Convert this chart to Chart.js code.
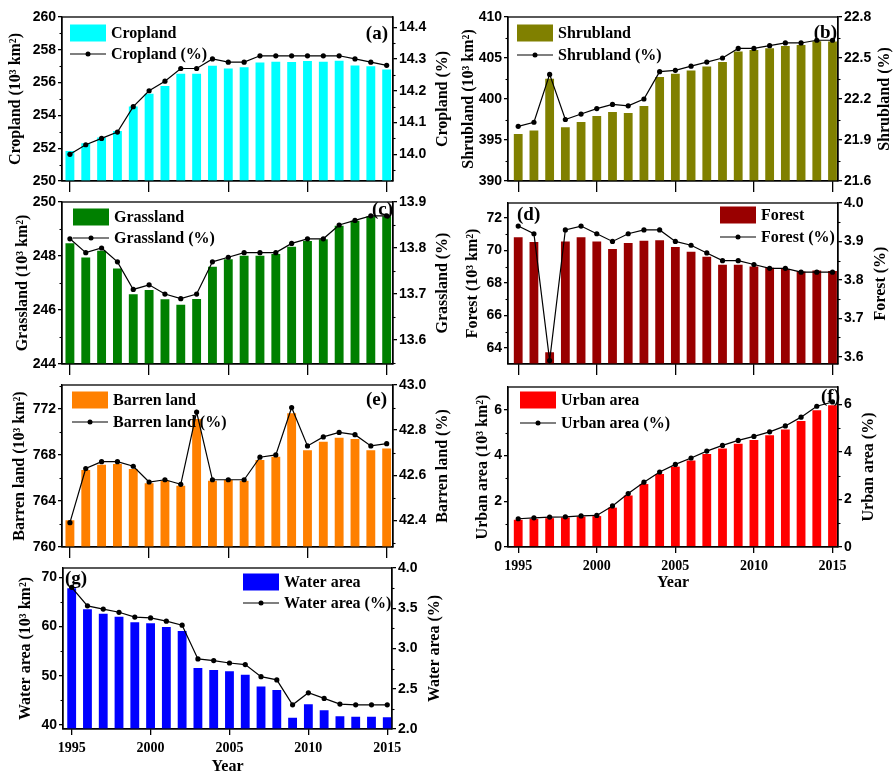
<!DOCTYPE html>
<html>
<head>
<meta charset="utf-8">
<script src="https://cdn.jsdelivr.net/npm/chart.js@4.4.1/dist/chart.umd.min.js"></script>
<style>
  html, body { margin: 0; padding: 0; background: #fff; }
  body { width: 893px; height: 773px; position: relative; overflow: hidden; }
  canvas { position: absolute; }
</style>
</head>
<body>
<script>
// ---- data: land cover area (10^3 km^2) and share (%) per year ----
const years = [1995, 1996, 1997, 1998, 1999, 2000, 2001, 2002, 2003, 2004, 2005,
               2006, 2007, 2008, 2009, 2010, 2011, 2012, 2013, 2014, 2015];
const yearTicks = [1995, 2000, 2005, 2010, 2015];

const croplandArea = [251.83, 252.30, 252.65, 253.05, 254.54, 255.32, 255.80, 256.54, 256.54, 257.03, 256.86,
                      256.94, 257.23, 257.27, 257.25, 257.31, 257.27, 257.33, 257.05, 257.00, 256.80];
const croplandPct  = [14.00, 14.03, 14.05, 14.07, 14.15, 14.20, 14.23, 14.27, 14.27, 14.30, 14.29,
                      14.29, 14.31, 14.31, 14.31, 14.31, 14.31, 14.31, 14.30, 14.29, 14.28];

const shrublandArea = [395.74, 396.15, 402.46, 396.56, 397.20, 397.94, 398.40, 398.30, 399.16, 402.67, 403.07,
                       403.48, 403.97, 404.50, 405.80, 405.97, 406.20, 406.46, 406.60, 407.03, 407.00];
const shrublandPct  = [22.00, 22.03, 22.38, 22.05, 22.09, 22.13, 22.16, 22.15, 22.20, 22.40, 22.41,
                       22.44, 22.47, 22.50, 22.57, 22.57, 22.59, 22.61, 22.61, 22.63, 22.63];

const grasslandArea = [248.47, 247.94, 248.19, 247.54, 246.58, 246.74, 246.40, 246.19, 246.41, 247.60, 247.88,
                       248.01, 248.01, 248.07, 248.34, 248.56, 248.62, 249.12, 249.31, 249.47, 249.47];
const grasslandPct  = [13.82, 13.79, 13.80, 13.77, 13.71, 13.72, 13.70, 13.69, 13.70, 13.77, 13.78,
                       13.79, 13.79, 13.79, 13.81, 13.82, 13.82, 13.85, 13.86, 13.87, 13.87];

const forestArea = [70.81, 70.52, 63.73, 70.56, 70.81, 70.56, 70.09, 70.46, 70.60, 70.63, 70.21,
                    69.93, 69.62, 69.12, 69.12, 69.02, 68.94, 68.86, 68.71, 68.77, 68.73];
const forestPct  = [3.94, 3.92, 3.59, 3.93, 3.94, 3.92, 3.90, 3.92, 3.93, 3.93, 3.90,
                    3.89, 3.87, 3.85, 3.85, 3.84, 3.83, 3.83, 3.82, 3.82, 3.82];

const barrenArea = [762.32, 766.70, 767.16, 767.22, 766.78, 765.54, 765.77, 765.33, 771.13, 765.77, 765.83,
                    765.77, 767.57, 767.86, 771.65, 768.43, 769.16, 769.51, 769.39, 768.43, 768.58];
const barrenPct  = [42.39, 42.63, 42.66, 42.66, 42.64, 42.57, 42.58, 42.56, 42.88, 42.58, 42.58,
                    42.58, 42.68, 42.69, 42.90, 42.73, 42.77, 42.79, 42.78, 42.73, 42.74];

const urbanArea = [1.19, 1.23, 1.26, 1.29, 1.33, 1.35, 1.72, 2.25, 2.75, 3.19, 3.51,
                   3.78, 4.06, 4.30, 4.51, 4.68, 4.88, 5.13, 5.51, 5.97, 6.19];
const urbanPct  = [1.19, 1.23, 1.26, 1.27, 1.31, 1.33, 1.73, 2.25, 2.73, 3.16, 3.48,
                   3.75, 4.04, 4.28, 4.49, 4.66, 4.85, 5.10, 5.47, 5.93, 6.11];

const waterArea = [67.8, 63.5, 62.6, 62.0, 60.9, 60.7, 59.9, 59.1, 51.6, 51.2, 50.9,
                   50.2, 47.8, 47.1, 41.5, 44.2, 43.0, 41.8, 41.7, 41.7, 41.6];
const waterPct  = [3.76, 3.53, 3.49, 3.45, 3.39, 3.38, 3.34, 3.29, 2.87, 2.85, 2.82,
                   2.80, 2.65, 2.61, 2.30, 2.45, 2.38, 2.31, 2.30, 2.30, 2.30];

// tick labels for each value axis
const croplandAreaTicks  = [250, 252, 254, 256, 258, 260];
const croplandPctTicks   = [14.0, 14.1, 14.2, 14.3, 14.4];
const shrublandAreaTicks = [390, 395, 400, 405, 410];
const shrublandPctTicks  = [21.6, 21.9, 22.2, 22.5, 22.8];
const grasslandAreaTicks = [244, 246, 248, 250];
const grasslandPctTicks  = [13.6, 13.7, 13.8, 13.9];
const forestAreaTicks    = [64, 66, 68, 70, 72];
const forestPctTicks     = [3.6, 3.7, 3.8, 3.9, 4.0];
const barrenAreaTicks    = [760, 764, 768, 772];
const barrenPctTicks     = [42.4, 42.6, 42.8, 43.0];
const urbanAreaTicks     = [0, 2, 4, 6];
const urbanPctTicks      = [0, 2, 4, 6];
const waterAreaTicks     = [40, 50, 60, 70];
const waterPctTicks      = [2.0, 2.5, 3.0, 3.5, 4.0];

// ---- panel layout ----
const SERIF = "'Liberation Serif', 'Times New Roman', serif";
const SANS  = "'Liberation Sans', Arial, sans-serif";

const panels = [
  { tag: '(a)', name: 'Cropland', color: '#00FFFF', area: croplandArea, pct: croplandPct,
    areaTicks: croplandAreaTicks, pctTicks: croplandPctTicks, areaRange: [250, 260], pctRange: [13.916, 14.432],
    areaDec: 0, pctDec: 1, box: [0, 0, 452, 195], plot: { l: 62, r: 393, t: 17, b: 181 },
    xRange: [1994.5, 2015.4], showYears: false,
    legend: { x: 70, y1: 33, y2: 54 }, tagPos: { x: 388, y: 34, align: 'right' }, titleX: [16, 443] },
  { tag: '(b)', name: 'Shrubland', color: '#808000', area: shrublandArea, pct: shrublandPct,
    areaTicks: shrublandAreaTicks, pctTicks: shrublandPctTicks, areaRange: [390, 410], pctRange: [21.6, 22.8],
    areaDec: 0, pctDec: 1, box: [448, 0, 445, 195], plot: { l: 508, r: 838, t: 17, b: 181 },
    xRange: [1994.35, 2015.35], showYears: false,
    legend: { x: 517, y1: 33, y2: 55 }, tagPos: { x: 837, y: 33, align: 'right' }, titleX: [469, 885] },
  { tag: '(c)', name: 'Grassland', color: '#008000', area: grasslandArea, pct: grasslandPct,
    areaTicks: grasslandAreaTicks, pctTicks: grasslandPctTicks, areaRange: [244, 250], pctRange: [13.548, 13.9],
    areaDec: 0, pctDec: 1, box: [0, 190, 452, 188], plot: { l: 62, r: 393, t: 202, b: 364 },
    xRange: [1994.5, 2015.4], showYears: false,
    legend: { x: 73, y1: 217, y2: 238 }, tagPos: { x: 393, y: 210, align: 'right' }, titleX: [23, 443] },
  { tag: '(d)', name: 'Forest', color: '#990000', area: forestArea, pct: forestPct,
    areaTicks: forestAreaTicks, pctTicks: forestPctTicks, areaRange: [63, 72.93], pctRange: [3.581, 4.0],
    areaDec: 0, pctDec: 1, box: [448, 190, 445, 188], plot: { l: 508, r: 838, t: 203, b: 364 },
    xRange: [1994.35, 2015.35], showYears: false,
    legend: { x: 720, y1: 215, y2: 237 }, tagPos: { x: 517, y: 215, align: 'left' }, titleX: [473, 881] },
  { tag: '(e)', name: 'Barren land', color: '#FF8000', area: barrenArea, pct: barrenPct,
    areaTicks: barrenAreaTicks, pctTicks: barrenPctTicks, areaRange: [760, 774.1], pctRange: [42.282, 43.0],
    areaDec: 0, pctDec: 1, box: [0, 372, 452, 188], plot: { l: 62, r: 393, t: 385, b: 547 },
    xRange: [1994.5, 2015.4], showYears: false,
    legend: { x: 72, y1: 400, y2: 422 }, tagPos: { x: 387, y: 400, align: 'right' }, titleX: [20, 443] },
  { tag: '(f)', name: 'Urban area', color: '#FF0000', area: urbanArea, pct: urbanPct,
    areaTicks: urbanAreaTicks, pctTicks: urbanPctTicks, areaRange: [0, 6.99], pctRange: [0, 6.74],
    areaDec: 0, pctDec: 0, box: [448, 372, 445, 228], plot: { l: 508, r: 838, t: 387, b: 547 },
    xRange: [1994.35, 2015.35], showYears: true, yearLabelY: 583,
    legend: { x: 520, y1: 400, y2: 423 }, tagPos: { x: 840, y: 397, align: 'right' }, titleX: [483, 869] },
  { tag: '(g)', name: 'Water area', color: '#0000FF', area: waterArea, pct: waterPct,
    areaTicks: waterAreaTicks, pctTicks: waterPctTicks, areaRange: [39.19, 71.9], pctRange: [2.0, 4.0],
    areaDec: 0, pctDec: 1, box: [0, 555, 452, 218], plot: { l: 63, r: 392, t: 568, b: 729 },
    xRange: [1994.45, 2015.3], showYears: true, yearLabelY: 767,
    legend: { x: 243, y1: 582, y2: 603 }, tagPos: { x: 65, y: 579, align: 'left' }, titleX: [26, 435] }
];

// half-way minor tick values between the labelled ticks, kept inside the axis range
function minorValues(ticks, lo, hi) {
  const out = [];
  const step = ticks[1] - ticks[0];
  const cand = [ticks[0] - step / 2];
  for (let i = 0; i < ticks.length; i++) cand.push(ticks[i] + step / 2);
  cand.forEach(v => { if (v > lo + 1e-9 && v < hi - 1e-9) out.push(v); });
  return out;
}

// frame, minor ticks, in-plot legend, axis titles and panel tag
function decor(p) {
  return {
    id: 'decor',
    afterDraw(chart) {
      const ctx = chart.ctx, ca = chart.chartArea;
      const ox = p.box[0], oy = p.box[1];
      ctx.save();
      ctx.strokeStyle = '#000';
      ctx.lineWidth = 1.3;
      ctx.strokeRect(ca.left, ca.top, ca.right - ca.left, ca.bottom - ca.top);

      // minor ticks
      ctx.lineWidth = 1.1;
      [['y', -1, ca.left, p.areaTicks, p.areaRange], ['y1', 1, ca.right, p.pctTicks, p.pctRange]]
        .forEach(([id, dir, x0, ticks, rng]) => {
          const sc = chart.scales[id];
          minorValues(ticks, rng[0], rng[1]).forEach(v => {
            const y = Math.round(sc.getPixelForValue(v)) + 0.5;
            ctx.beginPath();
            ctx.moveTo(x0, y);
            ctx.lineTo(x0 + dir * 2.5, y);
            ctx.stroke();
          });
        });

      // legend
      const lx = p.legend.x - ox;
      const ly1 = p.legend.y1 - oy, ly2 = p.legend.y2 - oy;
      ctx.fillStyle = p.color;
      ctx.fillRect(lx, ly1 - 8.5, 36, 17);
      ctx.strokeStyle = '#000';
      ctx.lineWidth = 1.2;
      ctx.beginPath();
      ctx.moveTo(lx, ly2);
      ctx.lineTo(lx + 36, ly2);
      ctx.stroke();
      ctx.fillStyle = '#000';
      ctx.beginPath();
      ctx.arc(lx + 18, ly2, 2.5, 0, Math.PI * 2);
      ctx.fill();
      ctx.font = 'bold 16px ' + SERIF;
      ctx.textAlign = 'left';
      ctx.textBaseline = 'middle';
      ctx.fillText(p.name, lx + 41, ly1 + 1);
      ctx.fillText(p.name + ' (%)', lx + 41, ly2 + 1);

      // axis titles (both read bottom-to-top)
      const midY = (ca.top + ca.bottom) / 2;
      ctx.textAlign = 'center';
      [[p.titleX[0], p.name + ' (10\u00B3 km\u00B2)'], [p.titleX[1], p.name + ' (%)']].forEach(([tx, txt]) => {
        ctx.save();
        ctx.translate(tx - ox, midY);
        ctx.rotate(-Math.PI / 2);
        ctx.fillText(txt, 0, 0);
        ctx.restore();
      });

      // panel tag
      ctx.font = 'bold 19px ' + SERIF;
      ctx.textAlign = p.tagPos.align;
      ctx.fillText(p.tag, p.tagPos.x - ox, p.tagPos.y - oy);

      // x axis title
      if (p.showYears) {
        ctx.font = 'bold 16px ' + SERIF;
        ctx.textAlign = 'center';
        ctx.fillText('Year', (ca.left + ca.right) / 2, p.yearLabelY - oy);
      }
      ctx.restore();
    }
  };
}

function valueAxis(p, ticks, range, dec, side, width) {
  return {
    type: 'linear',
    position: side,
    min: range[0],
    max: range[1],
    grid: { display: true, drawOnChartArea: false, drawTicks: true, tickLength: 4, color: '#000', lineWidth: 1.3 },
    border: { display: true, color: '#000', width: 1.3 },
    ticks: {
      color: '#000',
      font: { family: SANS, size: 14, weight: 'bold' },
      padding: 2,
      callback: v => Number(v).toFixed(dec)
    },
    afterBuildTicks: s => { s.ticks = ticks.map(v => ({ value: v })); },
    afterFit: s => { s.width = width; }
  };
}

function makeChart(p) {
  const [cx, cy, cw, ch] = p.box;
  const cv = document.createElement('canvas');
  cv.width = cw;
  cv.height = ch;
  cv.style.left = cx + 'px';
  cv.style.top = cy + 'px';
  document.body.appendChild(cv);

  const pts = arr => years.map((yr, i) => ({ x: yr, y: arr[i] }));

  new Chart(cv, {
    type: 'bar',
    data: {
      datasets: [
        { type: 'line', label: p.name + ' (%)', data: pts(p.pct), yAxisID: 'y1',
          borderColor: '#000', borderWidth: 1.2, pointRadius: 2.6, pointBackgroundColor: '#000',
          pointBorderColor: '#000', pointBorderWidth: 0, tension: 0, order: 0 },
        { type: 'bar', label: p.name, data: pts(p.area), yAxisID: 'y',
          backgroundColor: p.color, borderWidth: 0, categoryPercentage: 0.56, barPercentage: 1, order: 1 }
      ]
    },
    options: {
      responsive: false,
      animation: false,
      devicePixelRatio: 1,
      layout: { padding: { top: p.plot.t - cy, left: 0, right: 0, bottom: 0 } },
      plugins: { legend: { display: false }, tooltip: { enabled: false } },
      scales: {
        x: {
          type: 'linear',
          position: 'bottom',
          min: p.xRange[0],
          max: p.xRange[1],
          offset: false,
          grid: { display: true, offset: false, drawOnChartArea: false, drawTicks: true,
                  tickLength: p.showYears ? 6 : 11, color: '#000', lineWidth: 1.3 },
          border: { display: true, color: '#000', width: 1.3 },
          ticks: { display: p.showYears, color: '#000', font: { family: SERIF, size: 14, weight: 'bold' },
                   padding: 5, maxRotation: 0, autoSkip: false, callback: v => String(v) },
          afterBuildTicks: s => { s.ticks = yearTicks.map(v => ({ value: v })); },
          afterFit: s => { s.height = cy + ch - p.plot.b; }
        },
        y: valueAxis(p, p.areaTicks, p.areaRange, p.areaDec, 'left', p.plot.l - cx),
        y1: valueAxis(p, p.pctTicks, p.pctRange, p.pctDec, 'right', cx + cw - p.plot.r)
      }
    },
    plugins: [decor(p)]
  });
}

panels.forEach(makeChart);
</script>
</body>
</html>
